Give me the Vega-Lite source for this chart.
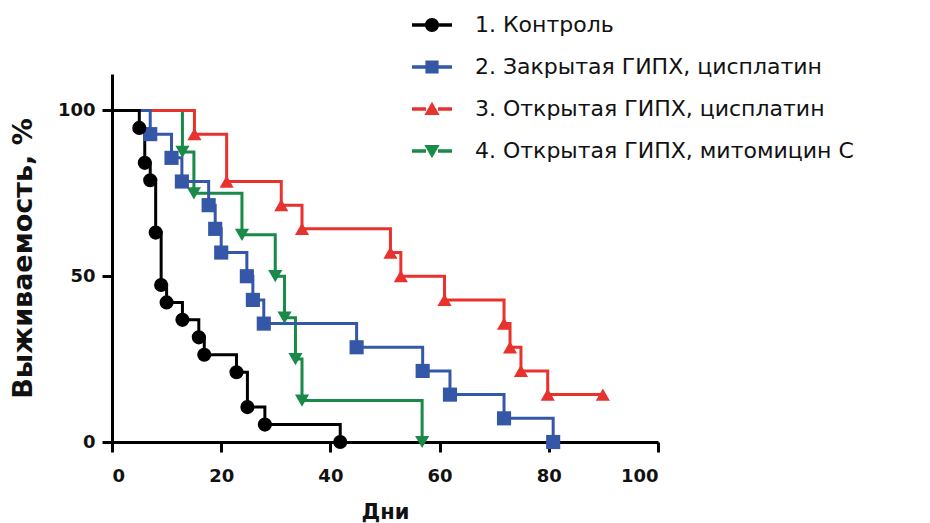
{
  "$schema": "https://vega.github.io/schema/vega-lite/v6.json",
  "width": 546,
  "height": 368,
  "autosize": {"type": "none"},
  "padding": {"left": 112, "top": 74, "right": 272, "bottom": 81},
  "background": "white",
  "config": {
    "view": {"stroke": null},
    "axis": {
      "domainColor": "black", "domainWidth": 3, "tickColor": "black", "tickWidth": 3, "tickSize": 10,
      "labelFont": "DejaVu Sans", "labelFontWeight": "bold", "labelFontSize": 18, "labelColor": "#111",
      "titleFont": "DejaVu Sans", "titleFontWeight": "bold", "titleColor": "#111", "grid": false
    }
  },
  "data": {"values": [
    {"group": "4. Открытая ГИПХ, митомицин С", "day": 0, "surv": 100},
    {"group": "4. Открытая ГИПХ, митомицин С", "day": 12.9, "surv": 87.5},
    {"group": "4. Открытая ГИПХ, митомицин С", "day": 15, "surv": 75},
    {"group": "4. Открытая ГИПХ, митомицин С", "day": 23.8, "surv": 62.5},
    {"group": "4. Открытая ГИПХ, митомицин С", "day": 29.9, "surv": 50},
    {"group": "4. Открытая ГИПХ, митомицин С", "day": 31.6, "surv": 37.5},
    {"group": "4. Открытая ГИПХ, митомицин С", "day": 33.6, "surv": 25},
    {"group": "4. Открытая ГИПХ, митомицин С", "day": 34.8, "surv": 12.5},
    {"group": "4. Открытая ГИПХ, митомицин С", "day": 56.8, "surv": 0},
    {"group": "3. Открытая ГИПХ, цисплатин", "day": 0, "surv": 100},
    {"group": "3. Открытая ГИПХ, цисплатин", "day": 15.1, "surv": 92.86},
    {"group": "3. Открытая ГИПХ, цисплатин", "day": 21, "surv": 78.57},
    {"group": "3. Открытая ГИПХ, цисплатин", "day": 31, "surv": 71.43},
    {"group": "3. Открытая ГИПХ, цисплатин", "day": 34.8, "surv": 64.29},
    {"group": "3. Открытая ГИПХ, цисплатин", "day": 51, "surv": 57.14},
    {"group": "3. Открытая ГИПХ, цисплатин", "day": 52.9, "surv": 50},
    {"group": "3. Открытая ГИПХ, цисплатин", "day": 60.9, "surv": 42.86},
    {"group": "3. Открытая ГИПХ, цисплатин", "day": 71.8, "surv": 35.71},
    {"group": "3. Открытая ГИПХ, цисплатин", "day": 72.9, "surv": 28.57},
    {"group": "3. Открытая ГИПХ, цисплатин", "day": 74.9, "surv": 21.43},
    {"group": "3. Открытая ГИПХ, цисплатин", "day": 79.8, "surv": 14.29},
    {"group": "3. Открытая ГИПХ, цисплатин", "day": 89.9, "surv": 14.29},
    {"group": "2. Закрытая ГИПХ, цисплатин", "day": 0, "surv": 100},
    {"group": "2. Закрытая ГИПХ, цисплатин", "day": 7, "surv": 92.86},
    {"group": "2. Закрытая ГИПХ, цисплатин", "day": 10.9, "surv": 85.71},
    {"group": "2. Закрытая ГИПХ, цисплатин", "day": 12.8, "surv": 78.57},
    {"group": "2. Закрытая ГИПХ, цисплатин", "day": 17.7, "surv": 71.43},
    {"group": "2. Закрытая ГИПХ, цисплатин", "day": 18.9, "surv": 64.29},
    {"group": "2. Закрытая ГИПХ, цисплатин", "day": 20, "surv": 57.14},
    {"group": "2. Закрытая ГИПХ, цисплатин", "day": 24.7, "surv": 50},
    {"group": "2. Закрытая ГИПХ, цисплатин", "day": 25.8, "surv": 42.86},
    {"group": "2. Закрытая ГИПХ, цисплатин", "day": 27.8, "surv": 35.71},
    {"group": "2. Закрытая ГИПХ, цисплатин", "day": 44.8, "surv": 28.57},
    {"group": "2. Закрытая ГИПХ, цисплатин", "day": 56.9, "surv": 21.43},
    {"group": "2. Закрытая ГИПХ, цисплатин", "day": 61.9, "surv": 14.29},
    {"group": "2. Закрытая ГИПХ, цисплатин", "day": 71.8, "surv": 7.14},
    {"group": "2. Закрытая ГИПХ, цисплатин", "day": 80.8, "surv": 0},
    {"group": "1. Контроль", "day": 0, "surv": 100},
    {"group": "1. Контроль", "day": 5, "surv": 94.74},
    {"group": "1. Контроль", "day": 6, "surv": 84.21},
    {"group": "1. Контроль", "day": 7, "surv": 78.95},
    {"group": "1. Контроль", "day": 8, "surv": 63.16},
    {"group": "1. Контроль", "day": 9, "surv": 47.37},
    {"group": "1. Контроль", "day": 10, "surv": 42.11},
    {"group": "1. Контроль", "day": 12.9, "surv": 36.84},
    {"group": "1. Контроль", "day": 15.9, "surv": 31.58},
    {"group": "1. Контроль", "day": 16.9, "surv": 26.32},
    {"group": "1. Контроль", "day": 22.8, "surv": 21.05},
    {"group": "1. Контроль", "day": 24.8, "surv": 10.53},
    {"group": "1. Контроль", "day": 28, "surv": 5.26},
    {"group": "1. Контроль", "day": 41.8, "surv": 0}
  ]},
  "encoding": {
    "x": {"field": "day", "type": "quantitative",
      "scale": {"domain": [0, 100], "nice": false, "zero": false},
      "axis": {"values": [0, 20, 40, 60, 80, 100], "title": "Дни", "titleFontSize": 21, "labelPadding": 15, "titlePadding": 16}},
    "y": {"field": "surv", "type": "quantitative",
      "scale": {"domain": [0, 111], "nice": false},
      "axis": {"values": [0, 50, 100], "title": "Выживаемость, %", "titleFontSize": 27, "labelPadding": 7, "titlePadding": 20}}
  },
  "layer": [
    {
      "mark": {"type": "line", "interpolate": "step-after", "strokeWidth": 3},
      "encoding": {"stroke": {"field": "group", "type": "nominal", "legend": null,
        "scale": {"range": ["#000000", "#3557a8", "#e8322e", "#1a8a48"]}}}
    },
    {
      "transform": [{"filter": "datum.day > 0"}],
      "mark": {"type": "point", "filled": true, "opacity": 1, "size": 200},
      "encoding": {
        "color": {"field": "group", "type": "nominal",
          "scale": {"domain": ["1. Контроль", "2. Закрытая ГИПХ, цисплатин", "3. Открытая ГИПХ, цисплатин", "4. Открытая ГИПХ, митомицин С"],
            "range": ["#000000", "#3557a8", "#e8322e", "#1a8a48"]},
          "legend": {
            "orient": "none", "legendX": 300, "legendY": -69, "title": null, "padding": 0,
            "symbolSize": 1600, "symbolStrokeWidth": 0, "symbolOpacity": 1,
            "labelFont": "DejaVu Sans", "labelFontSize": 22, "labelColor": "#111", "labelOffset": 23, "labelLimit": 600,
            "rowPadding": 11,
            "encode": {"symbols": {"update": {"shape": {"signal": "['M-1,-0.085H-0.3V0.085H-1Z M0.3,-0.085H1V0.085H0.3Z M-0.35,0A0.35,0.35 0 1,1 0.35,0A0.35,0.35 0 1,1 -0.35,0Z', 'M-1,-0.085H-0.3V0.085H-1Z M0.3,-0.085H1V0.085H0.3Z M-0.33,-0.33H0.33V0.33H-0.33Z', 'M-1,-0.085H-0.3V0.085H-1Z M0.3,-0.085H1V0.085H0.3Z M0,-0.36L0.38,0.3H-0.38Z', 'M-1,-0.085H-0.3V0.085H-1Z M0.3,-0.085H1V0.085H0.3Z M0,0.36L-0.38,-0.3H0.38Z'][datum.index]"}, "fill": {"scale": "color", "field": "value"}}}}
          }
        },
        "shape": {"field": "group", "type": "nominal",
          "scale": {"range": ["circle", "square", "triangle-up", "triangle-down"]},
          "legend": null
        }
      }
    }
  ]
}
